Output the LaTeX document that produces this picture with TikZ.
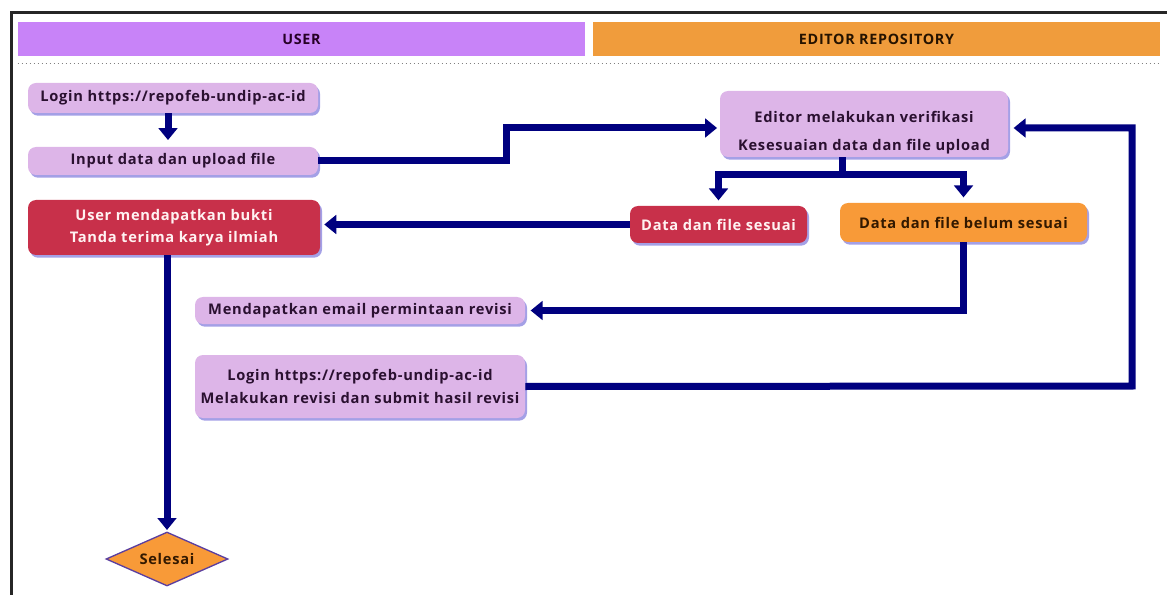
\documentclass[tikz,border=0pt]{standalone}
\usepackage{fontspec}
\setmainfont{Open Sans}[LetterSpace=5]
\usetikzlibrary{arrows.meta,shapes.geometric,shadows,calc}
\definecolor{navy}{HTML}{00007F}
\definecolor{lav}{HTML}{DDB5E8}
\definecolor{lavtext}{HTML}{2A1030}
\definecolor{redbox}{HTML}{C8304A}
\definecolor{orangebox}{HTML}{F89A38}
\definecolor{hdrpurple}{HTML}{C883F8}
\definecolor{hdrorange}{HTML}{F09C3C}
\definecolor{shadowc}{HTML}{A4A0E6}
\definecolor{diamondedge}{HTML}{5B3FA0}
\begin{document}
\begin{tikzpicture}[x=0.75pt,y=-0.75pt,
  box/.style={rounded corners=6pt, font=\bfseries\fontsize{11}{12}\selectfont, align=center, inner sep=0pt,
    drop shadow={shadow xshift=1.5pt, shadow yshift=-2pt, fill=shadowc, opacity=1}},
  lavbox/.style={box, fill=lav, text=lavtext},
  redb/.style={box, fill=redbox, text=white!95!red},
  orangeb/.style={box, fill=orangebox, text=black!80!orange},
  hdr/.style={font=\bfseries\fontsize{10.75}{12}\selectfont, inner sep=0pt},
  link/.style={draw=navy, line width=5.25pt},
  flow/.style={link, -{Triangle[width=14pt,length=9pt]}}
]
\useasboundingbox (0,0) rectangle (1167,595);
% frame
\draw[line width=2.25pt, black!85] (11,595) -- (11,13) -- (1167,13);
% headers
\node[hdr, fill=hdrpurple, text=black!70!violet, minimum width=425.25pt, minimum height=25.5pt] (huser) at (301.5,39) {USER};
\node[hdr, fill=hdrorange, text=black!85!orange, minimum width=425.25pt, minimum height=25.5pt] (hedit) at (876.5,39) {EDITOR REPOSITORY};
\draw[gray, dotted, line width=1pt] (huser.south west) ++(0,7) coordinate (dl) -- (dl -| hedit.south east);

% nodes
\node[lavbox, minimum width=217.5pt, minimum height=22.5pt] (login1) at (173,98) {Login https://repofeb-undip-ac-id};
\node[lavbox, minimum width=217.5pt, minimum height=21pt] (input) at (173,161) {Input data dan upload file};
\node[redb, minimum width=219pt, minimum height=41.25pt, font=\bfseries\fontsize{11}{16.5}\selectfont] (bukti) at (174,227.5) {User mendapatkan bukti\\Tanda terima karya ilmiah};
\node[lavbox, minimum width=216pt, minimum height=49.5pt, font=\bfseries\fontsize{11}{21}\selectfont] (editor) at (864,124) {\rule{0pt}{21pt}Editor melakukan verifikasi\\Kesesuaian data dan file upload};
\node[redb, minimum width=132.75pt, minimum height=27.75pt] (sesuai) at (718.5,224.5) {Data dan file sesuai};
\node[orangeb, minimum width=185.25pt, minimum height=29.25pt] (belum) at (963.5,222.5) {Data dan file belum sesuai};
\node[lavbox, minimum width=247.5pt, minimum height=20.25pt] (email) at (360,310.5) {Mendapatkan email permintaan revisi};
\node[lavbox, minimum width=247.5pt, minimum height=47.25pt, font=\bfseries\fontsize{11}{17}\selectfont] (login2) at (360,386.5) {Login https://repofeb-undip-ac-id\\Melakukan revisi dan submit hasil revisi};
\node[diamond, aspect=2.2, fill=orangebox, draw=diamondedge, line width=1pt, minimum width=91.5pt, minimum height=40.5pt, inner sep=0pt, font=\bfseries\fontsize{11}{12}\selectfont, text=black!80!orange] (selesai) at (167,559) {Selesai};

% connectors
\coordinate (bend1) at (506,161);
\coordinate (split) at (842,175);
\coordinate (loopr) at (1132,386);
\draw[flow, shorten >=5pt] ([xshift=-3.75pt]login1.south) -- ([xshift=-3.75pt]input.north);
\draw[flow, shorten >=2pt] (input.east) -- (bend1) |- ([yshift=-3pt]editor.west);
\draw[link] (editor.south -| split) -- (split);
\draw[flow, shorten >=4pt] (split) -| (sesuai.north);
\draw[flow, shorten >=4pt] (split) -| (belum.north);
\draw[flow, shorten >=3pt] (sesuai.west) -- (sesuai.west -| bukti.east);
\draw[flow, shorten >=4pt] (belum.south) |- (email.east);
\draw[flow, shorten >=4pt] (login2.east) -- (loopr) |- ([yshift=-3pt]editor.east);
\draw[flow, shorten >=1pt] (bukti.south -| selesai.north) -- (selesai.north);
\end{tikzpicture}
\end{document}
